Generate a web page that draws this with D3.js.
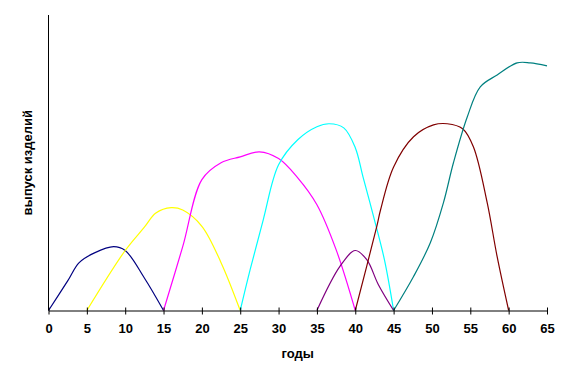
<!DOCTYPE html>
<html>
<head>
<meta charset="utf-8">
<script src="https://cdn.jsdelivr.net/npm/d3@7"></script>
<style>
  body { margin: 0; background: #fff; }
  text { font-family: "Liberation Sans", Arial, sans-serif; font-weight: bold; }
</style>
</head>
<body>
<script>
const width = 571
const height = 380

// x ticks (years) and series (y in arbitrary units 0..100)
const xTicks = [0, 5, 10, 15, 20, 25, 30, 35, 40, 45, 50, 55, 60, 65]

const navy = [[0, 0], [2.5, 10], [4, 16.2], [6, 19.5], [8.5, 21.6], [10, 20.3], [12.5, 11], [15, 0]]
const yellow = [[5, 0], [10, 20.3], [12.5, 28.2], [14, 33], [16, 34.8], [17.5, 34], [20, 28.5], [22.5, 16.2], [25, 0]]
const magenta = [[15, 0], [17.5, 21.6], [20, 44.3], [22.5, 50], [25, 52], [27.5, 53.7], [30, 51.4], [32.5, 44.9], [35, 35.8], [37.5, 20.6], [40, 0]]
const cyan = [[25, 0], [26.3, 13.9], [28, 30.7], [30, 49.3], [32.5, 57.8], [35, 62.2], [36.6, 63.2], [38.5, 61.8], [40, 55.1], [41, 45.3], [42.5, 30.7], [43.8, 17.2], [45, 0]]
const purple = [[35, 0], [38, 14.9], [40, 20.3], [41.5, 17.2], [43, 8.8], [45, 0]]
const darkred = [[40, 0], [42.8, 28.4], [43.3, 34.1], [45, 48.6], [47.6, 58.8], [50.2, 62.8], [52, 63.2], [54, 61.5], [55.4, 55.4], [57.2, 36.5], [58.5, 18.2], [60, 0]]
const teal = [[45, 0], [47.6, 11.5], [49.8, 23], [51.5, 36.5], [52.8, 50], [54.6, 65.5], [56.3, 75.7], [58.5, 79.7], [61.1, 83.8], [62.8, 83.8], [65, 82.8]]

const seriesList = [
  { data: navy, color: '#000080' },
  { data: yellow, color: '#ffff00' },
  { data: magenta, color: '#ff00ff' },
  { data: cyan, color: '#00ffff' },
  { data: purple, color: '#800080' },
  { data: darkred, color: '#800000' },
  { data: teal, color: '#008080' }
]

const x = d3.scaleLinear().domain([0, 65]).range([48.5, 547])
const y = d3.scaleLinear().domain([0, 100]).range([310.5, 15])

const svg = d3.select('body').append('svg')
  .attr('width', width)
  .attr('height', height)

const line = d3.line()
  .x(d => x(d[0]))
  .y(d => y(d[1]))
  .curve(d3.curveCatmullRom.alpha(0.5))

svg.selectAll('.series')
  .data(seriesList)
  .enter()
  .append('path')
  .attr('class', 'series')
  .attr('d', d => line(d.data))
  .attr('fill', 'none')
  .attr('stroke', d => d.color)
  .attr('stroke-width', 1.2)

// y axis line only
svg.append('line')
  .attr('x1', x(0)).attr('x2', x(0))
  .attr('y1', y(100)).attr('y2', y(0))
  .attr('stroke', '#000')

const xAxis = svg.append('g')
  .attr('transform', `translate(0,${y(0)})`)
  .call(d3.axisBottom(x).tickValues(xTicks).tickSize(4).tickSizeOuter(0).tickPadding(9))

xAxis.select('.domain').attr('stroke', '#000')
xAxis.selectAll('.tick line').attr('y1', -3).attr('stroke', '#000')
xAxis.selectAll('.tick text')
  .attr('font-size', 13)
  .attr('font-family', '"Liberation Sans", Arial, sans-serif')
  .attr('font-weight', 'bold')
  .attr('fill', '#000')

svg.append('text')
  .attr('x', (x(0) + x(65)) / 2)
  .attr('y', 358)
  .attr('text-anchor', 'middle')
  .attr('font-size', 13)
  .text('годы')

svg.append('text')
  .attr('transform', `translate(32,${(y(0) + y(100)) / 2}) rotate(-90)`)
  .attr('text-anchor', 'middle')
  .attr('font-size', 13)
  .text('выпуск изделий')
</script>
</body>
</html>
